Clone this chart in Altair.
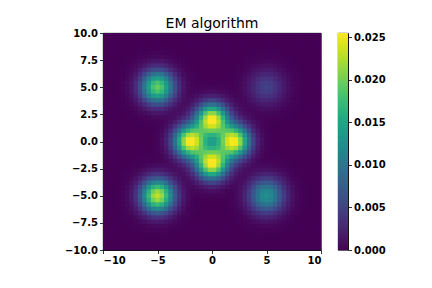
import numpy as np
import pandas as pd
import altair as alt

# Mixture components (centres, spreads, peak heights)
comp_x = [0.0, 2.0, 0.0, -2.0, -5.0, 5.0, -5.0, 5.0]
comp_y = [2.0, 0.0, -2.0, 0.0, 5.0, 5.0, -5.0, -5.0]
comp_peak = [0.0255, 0.0255, 0.0255, 0.0255, 0.0195, 0.0048, 0.0232, 0.0128]
comp_sigma = [1.0, 1.0, 1.0, 1.0, 1.05, 1.1, 1.05, 1.1]

x_ticks = [-10, -5, 0, 5, 10]
y_ticks = [-10, -7.5, -5, -2.5, 0, 2.5, 5, 7.5, 10]
cbar_ticks = [0, 0.005, 0.01, 0.015, 0.02, 0.025]
cbar_max = 0.0255

n_cells = 50
edges = np.linspace(-10, 10, n_cells + 1)
centres = (edges[:-1] + edges[1:]) / 2
overlap = 0.1  # tiny overlap so anti-aliased seams between cells vanish

rows = []
for i in range(n_cells):
    for j in range(n_cells):
        xc, yc = centres[i], centres[j]
        v = 0.0
        for mx, my, a, s in zip(comp_x, comp_y, comp_peak, comp_sigma):
            v += a * np.exp(-((xc - mx) ** 2 + (yc - my) ** 2) / (2 * s * s))
        rows.append({"x0": edges[i], "x1": min(edges[i + 1] + overlap, 10.0),
                     "y0": edges[j], "y1": min(edges[j + 1] + overlap, 10.0), "p": v})
df = pd.DataFrame(rows)

# colour bar levels
n_levels = 128
lev_edges = np.linspace(0, cbar_max, n_levels + 1)
cbar_df = pd.DataFrame({
    "lo": lev_edges[:-1],
    "hi": np.minimum(lev_edges[1:] + cbar_max / n_levels * 0.5, cbar_max),
    "mid": (lev_edges[:-1] + lev_edges[1:]) / 2,
    "a": 0, "b": 1,
})

cscale = alt.Scale(scheme="viridis", domain=[0, cbar_max], clamp=True)

main = alt.Chart(df).mark_rect().encode(
    x=alt.X("x0:Q", scale=alt.Scale(domain=[-10, 10], nice=False, zero=False),
            axis=alt.Axis(values=x_ticks, format="d", title=None)),
    x2="x1:Q",
    y=alt.Y("y0:Q", scale=alt.Scale(domain=[-10, 10], nice=False, zero=False),
            axis=alt.Axis(values=y_ticks, format=".1f", title=None)),
    y2="y1:Q",
    color=alt.Color("p:Q", scale=cscale, legend=None),
).properties(
    width=218, height=217,
    title=alt.TitleParams("EM algorithm", font="DejaVu Sans", fontSize=14,
                          fontWeight="normal", color="black", anchor="middle", offset=-3),
)

cbar = alt.Chart(cbar_df).mark_rect().encode(
    x=alt.X("a:Q", scale=alt.Scale(domain=[0, 1], nice=False, zero=False), axis=None),
    x2="b:Q",
    y=alt.Y("lo:Q", scale=alt.Scale(domain=[0, cbar_max], nice=False, zero=False),
            axis=alt.Axis(orient="right", values=cbar_ticks, format=".3f", title=None)),
    y2="hi:Q",
    color=alt.Color("mid:Q", scale=cscale, legend=None),
).properties(width=10, height=217)

chart = alt.hconcat(main, cbar, spacing=17, bounds="flush").properties(
    padding={"left": 56, "top": 8, "right": 10, "bottom": 10},
).resolve_scale(color="independent").configure_axis(
    labelFont="DejaVu Sans", labelFontWeight="bold", labelFontSize=10,
    labelColor="black", tickColor="black", domainColor="black",
    tickSize=3.5, tickWidth=0.8, domainWidth=0.8, labelPadding=2, grid=False,
).configure_view(stroke="black", strokeWidth=0.8)

chart.save("out.html", embed_options={"renderer": "svg", "actions": False})
